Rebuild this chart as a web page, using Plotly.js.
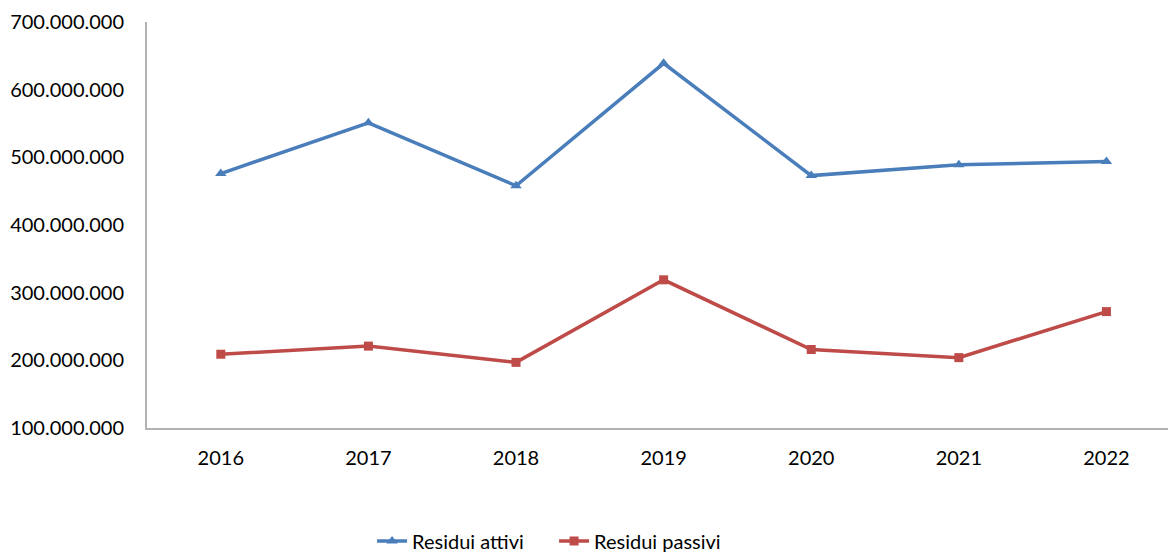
<!DOCTYPE html>
<html>
<head>
<meta charset="utf-8">
<script src="https://cdn.plot.ly/plotly-3.0.1.min.js"></script>
<style>html,body{margin:0;padding:0;background:#fff;}#chart{width:1170px;height:552px;}</style>
</head>
<body>
<div id="chart"></div>
<script>
const years = ["2016", "2017", "2018", "2019", "2020", "2021", "2022"];
const residuiAttivi = [476000000, 551000000, 458000000, 639000000, 473000000, 489000000, 494000000];
const residuiPassivi = [209000000, 221000000, 197000000, 319000000, 216000000, 204000000, 272000000];
const yTickVals = [100000000, 200000000, 300000000, 400000000, 500000000, 600000000, 700000000];
const yTickText = ["100.000.000", "200.000.000", "300.000.000", "400.000.000", "500.000.000", "600.000.000", "700.000.000"];

const font = {family: "Lato, 'Open Sans', sans-serif", size: 20, color: "#000"};

const traces = [
  {x: years, y: residuiAttivi, name: "Residui attivi", type: "scatter", mode: "lines+markers",
   line: {color: "#4a7ebb", width: 3.5}, marker: {symbol: "triangle-up", size: 10, color: "#4a7ebb"}},
  {x: years, y: residuiPassivi, name: "Residui passivi", type: "scatter", mode: "lines+markers",
   line: {color: "#be4b48", width: 3.5}, marker: {symbol: "square", size: 9, color: "#be4b48"}}
];

const layout = {
  width: 1170, height: 552,
  margin: {l: 147, r: 2, t: 22, b: 124, autoexpand: false},
  paper_bgcolor: "#fff", plot_bgcolor: "#fff",
  font: font,
  showlegend: true,
  legend: {orientation: "h", xref: "container", yref: "container", x: 0.318, xanchor: "left",
           y: 0.02, yanchor: "middle", font: font, itemwidth: 30, entrywidth: 137, tracegroupgap: 0},
  xaxis: {type: "category", range: [-0.5, 6.417], showgrid: false, zeroline: false, automargin: false,
          showline: true, linecolor: "#b3b3b3", linewidth: 2, ticks: "", ticklabelstandoff: 11,
          tickfont: font, fixedrange: true},
  yaxis: {range: [100000000, 700000000], tickvals: yTickVals, ticktext: yTickText, automargin: false,
          showgrid: false, zeroline: false, showline: true, linecolor: "#b3b3b3", linewidth: 2,
          ticks: "", ticklabelstandoff: 17, tickfont: font, fixedrange: true}
};

Plotly.newPlot("chart", traces, layout, {displayModeBar: false, staticPlot: true});
</script>
</body>
</html>
